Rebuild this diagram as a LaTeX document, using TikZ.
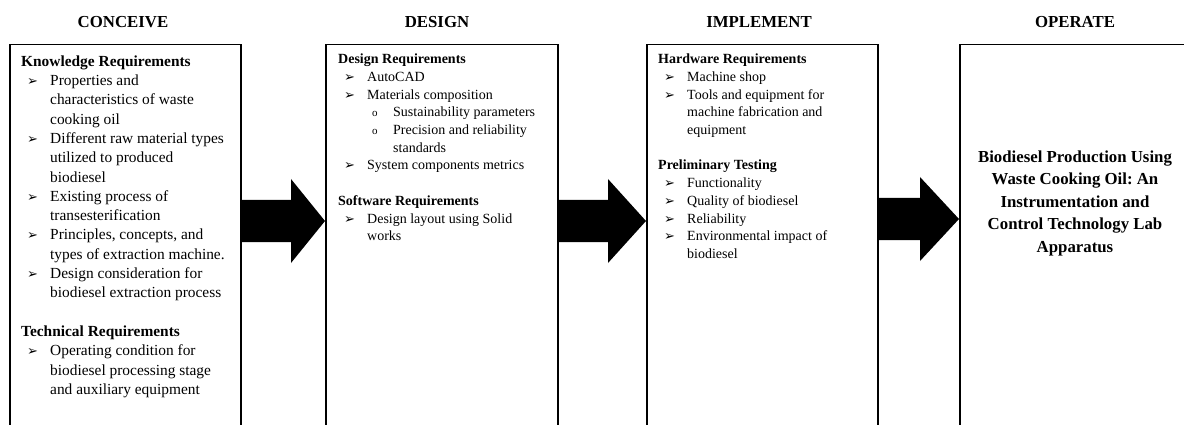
\documentclass[tikz,border=0pt]{standalone}
\usepackage{fontspec}
\setmainfont{Liberation Serif}
\newfontfamily\dingfont{DejaVu Sans}
\usetikzlibrary{calc}
\frenchspacing

% list bullets and continuation indents
\newcommand\arwbul{{\dingfont\fontsize{13}{13}\selectfont ➢}}
\newcommand\bulA{\hspace*{6pt}\makebox[23pt][l]{\arwbul}}
\newcommand\contA{\hspace*{29pt}}
\newcommand\subbul{\hspace*{34pt}\makebox[21pt][l]{{\fontsize{11}{11}\selectfont o}}}
\newcommand\subcont{\hspace*{55pt}}
\newcommand\firststrut{\rule{0pt}{14pt}}

% filled block arrow from #1 to #2 with head length #3
\newcommand\blockarrow[3]{%
  \fill ($(#1)+(0,-21)$) -- ($(#2)+(-#3,-21)$) -- ($(#2)+(-#3,-42)$) -- (#2)
    -- ($(#2)+(-#3,42)$) -- ($(#2)+(-#3,21)$) -- ($(#1)+(0,21)$) -- cycle;}

\begin{document}
\begin{tikzpicture}[x=1pt,y=-1pt,
  stagebox/.style={draw, line width=1.5pt, rectangle, minimum height=420pt,
    anchor=north west, inner sep=0pt},
  stagetitle/.style={anchor=base, inner sep=0pt,
    font=\fontsize{16.8}{22.5}\selectfont\bfseries},
  listA/.style={anchor=north west, align=left, inner sep=0pt,
    font=\fontsize{15.4}{19.3}\selectfont},
  listB/.style={anchor=north west, align=left, inner sep=0pt,
    font=\fontsize{14}{17.7}\selectfont},
  goal/.style={anchor=north, align=center, inner sep=0pt,
    font=\fontsize{16.8}{22.5}\selectfont\bfseries}
]
\useasboundingbox (0,0) rectangle (1184,425);
\clip (0,0) rectangle (1184,425);

% stage headings
\node[stagetitle] (t1) at (123,28) {CONCEIVE};
\node[stagetitle] (t2) at (437,28) {DESIGN};
\node[stagetitle] (t3) at (759,28) {IMPLEMENT};
\node[stagetitle] (t4) at (1075,28) {OPERATE};

% stage frames (open towards the bottom)
\node[stagebox, minimum width=231pt] (b1) at (9,44) {};
\node[stagebox, minimum width=232pt] (b2) at (325,44) {};
\node[stagebox, minimum width=231pt] (b3) at (646,44) {};
\node[stagebox, minimum width=232pt] (b4) at (959,44) {};

% CONCEIVE contents
\node[listA] (l1) at (21,52) {\firststrut\textbf{Knowledge Requirements}\\
\bulA Properties and\\
\contA characteristics of waste\\
\contA cooking oil\\
\bulA Different raw material types\\
\contA utilized to produced\\
\contA biodiesel\\
\bulA Existing process of\\
\contA transesterification\\
\bulA Principles, concepts, and\\
\contA types of extraction machine.\\
\bulA Design consideration for\\
\contA biodiesel extraction process\\[19.3pt]
\textbf{Technical Requirements}\\
\bulA Operating condition for\\
\contA biodiesel processing stage\\
\contA and auxiliary equipment};

% DESIGN contents
\node[listB] (l2) at (338,49.5) {\firststrut\textbf{Design Requirements}\\
\bulA AutoCAD\\
\bulA Materials composition\\
\subbul Sustainability parameters\\
\subbul Precision and reliability\\
\subcont standards\\
\bulA System components metrics\\[17.7pt]
\textbf{Software Requirements}\\
\bulA Design layout using Solid\\
\contA works};

% IMPLEMENT contents
\node[listB] (l3) at (658,49.5) {\firststrut\textbf{Hardware Requirements}\\
\bulA Machine shop\\
\bulA Tools and equipment for\\
\contA machine fabrication and\\
\contA equipment\\[17.7pt]
\textbf{Preliminary Testing}\\
\bulA Functionality\\
\bulA Quality of biodiesel\\
\bulA Reliability\\
\bulA Environmental impact of\\
\contA biodiesel};

% OPERATE contents
\node[goal] (g4) at (1075,148) {\firststrut Biodiesel Production Using\\
Waste Cooking Oil: An\\
Instrumentation and\\
Control Technology Lab\\
Apparatus};

% arrows between the stages
\coordinate (a1s) at (b1.north east |- 0,221);
\coordinate (a1e) at (b2.north west |- 0,221);
\coordinate (a2s) at (b2.north east |- 0,221);
\coordinate (a2e) at (b3.north west |- 0,221);
\coordinate (a3s) at (b3.north east |- 0,219);
\coordinate (a3e) at (b4.north west |- 0,219);
\blockarrow{a1s}{a1e}{34}
\blockarrow{a2s}{a2e}{38}
\blockarrow{a3s}{a3e}{39}
\end{tikzpicture}
\end{document}
